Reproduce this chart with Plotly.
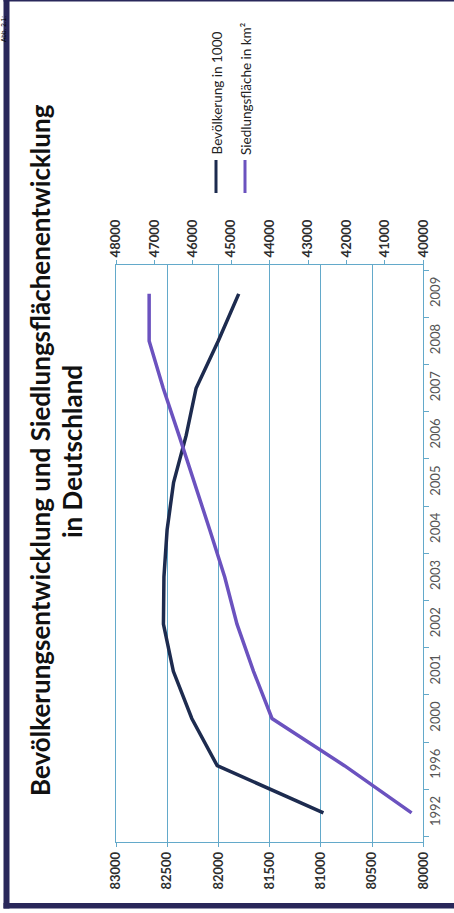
import plotly.graph_objects as go

# ---- data ----
years = ["1992", "1996", "2000", "2001", "2002", "2003", "2004",
         "2005", "2006", "2007", "2008", "2009"]
bevoelkerung = [80975, 82012, 82260, 82440, 82537, 82532, 82501,
                82438, 82315, 82218, 82002, 81802]          # in 1000
siedlungsflaeche = [40305, 42052, 43939, 44420, 44850, 45170, 45560,
                    45950, 46360, 46770, 47137, 47137]      # in km²
bev_ticks = [80000, 80500, 81000, 81500, 82000, 82500, 83000]
sied_ticks = [40000, 41000, 42000, 43000, 44000, 45000, 46000, 47000, 48000]

title_line1 = "Bevölkerungsentwicklung und Siedlungsflächenentwicklung"
title_line2 = "in Deutschland"
legend_names = ["Bevölkerung in 1000", "Siedlungsfläche in km²"]
caption = "Abb. 2.1:"

W, H = 454, 913
DARK = "#1d2b4f"
PURPLE = "#6b52bf"
GRID = "#63a9ca"
FRAME = "#29275a"
TICKC = "#2e2e2e"


def px(x):
    return x / W


def py(y):
    return 1 - y / H


fig = go.Figure()
fig.add_trace(go.Scatter(x=bevoelkerung, y=years, mode="lines",
                         name=legend_names[0], xaxis="x", yaxis="y",
                         line=dict(color=DARK, width=3.5)))
fig.add_trace(go.Scatter(x=siedlungsflaeche, y=years, mode="lines",
                         name=legend_names[1], xaxis="x2", yaxis="y",
                         line=dict(color=PURPLE, width=3.5)))

shapes = [
    # frame
    dict(type="rect", xref="paper", yref="paper", x0=px(3.5), x1=px(9.5),
         y0=py(908.5), y1=py(0), fillcolor=FRAME, line=dict(width=0), layer="above"),
    dict(type="rect", xref="paper", yref="paper", x0=px(3.5), x1=px(454),
         y0=py(908.5), y1=py(903), fillcolor=FRAME, line=dict(width=0), layer="above"),
    dict(type="rect", xref="paper", yref="paper", x0=px(3.5), x1=px(454),
         y0=py(1.5), y1=py(0), fillcolor=FRAME, line=dict(width=0), layer="above"),
    # legend swatches
    dict(type="line", xref="paper", yref="paper", x0=px(216), x1=px(216),
         y0=py(193), y1=py(160), line=dict(color=DARK, width=3)),
    dict(type="line", xref="paper", yref="paper", x0=px(245), x1=px(245),
         y0=py(193), y1=py(160), line=dict(color=PURPLE, width=3)),
]

title_font = dict(family="Lato", size=26, color="#111111", weight="bold")
legend_font = dict(family="Lato", size=13.5, color="#222222")

annotations = [
    dict(text=title_line1, xref="paper", yref="paper",
         x=px(40), y=py(450), xanchor="center", yanchor="middle",
         textangle=-90, showarrow=False, font=title_font),
    dict(text=title_line2, xref="paper", yref="paper",
         x=px(72), y=py(452), xanchor="center", yanchor="middle",
         textangle=-90, showarrow=False, font=title_font),
    dict(text=legend_names[0], xref="paper", yref="paper",
         x=px(217), y=py(157), xanchor="center", yanchor="bottom",
         textangle=-90, showarrow=False, font=legend_font),
    dict(text=legend_names[1], xref="paper", yref="paper",
         x=px(246), y=py(157), xanchor="center", yanchor="bottom",
         textangle=-90, showarrow=False, font=legend_font),
    dict(text=caption, xref="paper", yref="paper",
         x=px(3), y=py(44), xanchor="center", yanchor="bottom",
         textangle=-90, showarrow=False,
         font=dict(family="Liberation Sans", size=6.5, color="#000000")),
]

tick_font = dict(size=13, family="Lato", color=TICKC, weight="bold")

fig.update_layout(
    width=W, height=H,
    margin=dict(l=0, r=0, t=0, b=0, autoexpand=False),
    paper_bgcolor="white", plot_bgcolor="white",
    showlegend=False,
    font=dict(family="Lato", color=TICKC),
    shapes=shapes,
    annotations=annotations,
    xaxis=dict(
        domain=[px(116), px(423.3)], range=[83000, 80000],
        tickmode="array", tickvals=bev_ticks, tickformat="d",
        tickangle=-90, tickfont=tick_font,
        showgrid=True, gridcolor=GRID, gridwidth=1,
        showline=True, linecolor=GRID, linewidth=1,
        ticks="outside", ticklen=4, tickcolor=GRID,
        zeroline=False, anchor="y", side="bottom", automargin=False,
    ),
    xaxis2=dict(
        overlaying="x", range=[48000, 40000], side="top", anchor="y",
        tickmode="array", tickvals=sied_ticks, tickformat="d",
        tickangle=-90, tickfont=tick_font,
        showgrid=False, showline=True, linecolor=GRID, linewidth=1,
        ticks="outside", ticklen=4, tickcolor=GRID, zeroline=False,
        automargin=False,
    ),
    yaxis=dict(
        type="category", categoryorder="array", categoryarray=years,
        domain=[py(841.7), py(265)], side="right", anchor="x",
        tickangle=-90, tickfont=dict(size=13, family="Lato", color="#555555"),
        showgrid=False, showline=True, linecolor=GRID, linewidth=1,
        mirror=True, ticks="outside", tickson="boundaries",
        ticklen=5, tickcolor=GRID, automargin=False,
    ),
)

fig.write_html("out.html")
